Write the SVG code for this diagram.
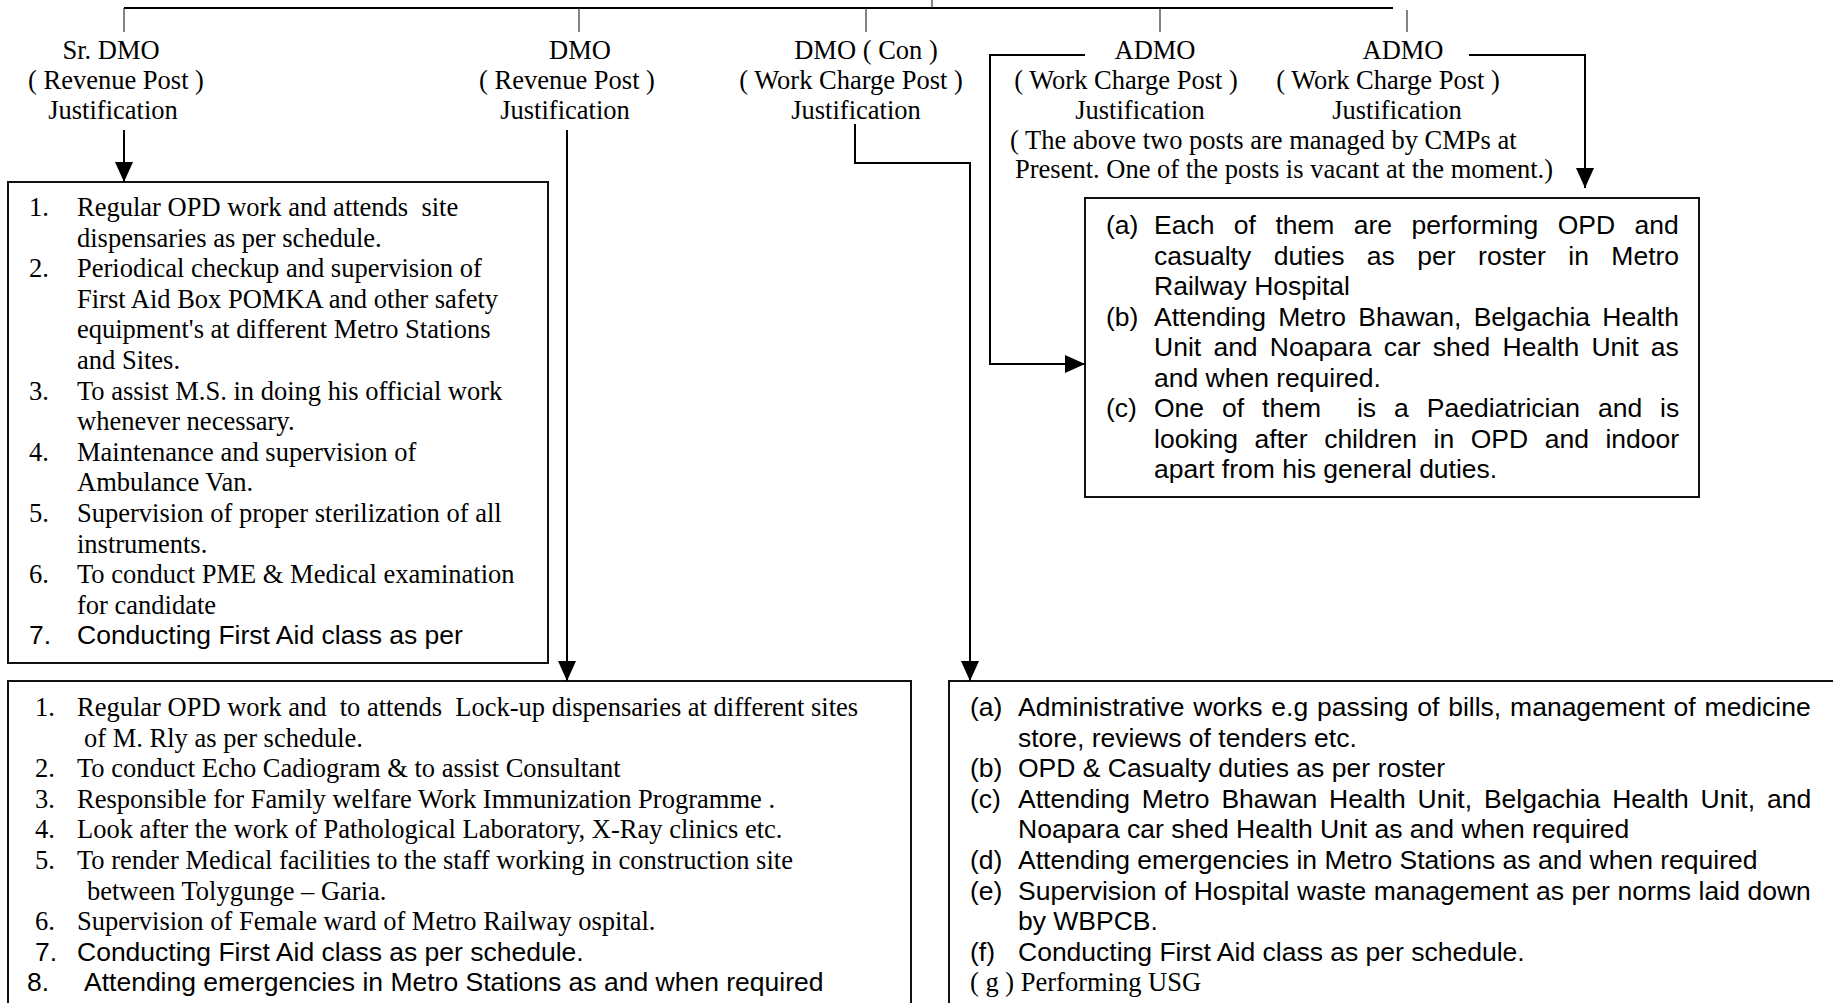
<svg xmlns="http://www.w3.org/2000/svg" width="1833" height="1003" viewBox="0 0 1833 1003" xml:space="preserve">
<style>
text{fill:#000;white-space:pre;font-size:26.5px}
.t{font-family:"Liberation Serif","Times New Roman",serif}
.a{font-family:"Liberation Sans",Arial,sans-serif}
.m{text-anchor:middle}
.box{fill:#fff;stroke:#111;stroke-width:2}
.conn{fill:none;stroke:#000;stroke-width:2}
.tick{fill:none;stroke:#333;stroke-width:1.2}
</style>
<defs>
<marker id="ah" markerUnits="userSpaceOnUse" markerWidth="20" markerHeight="18" refX="20" refY="9" orient="auto" viewBox="0 0 20 18">
<path d="M0,0 L20,9 L0,18 Z" fill="#000"/>
</marker>
</defs>
<rect width="1833" height="1003" fill="#fff"/>

<g id="org-lines">
<path class="conn" d="M124,8 H1393"/>
<path class="tick" d="M932,0 V8 M124,8 V32 M579,8 V32 M866,8 V32 M1160,9 V32 M1407,10 V32"/>
</g>

<g id="node-srdmo">
<text class="t m" x="111" y="58.5">Sr. DMO</text>
<text class="t m" x="116" y="88.5">( Revenue Post )</text>
<text class="t m" x="113" y="118.5">Justification</text>
</g>
<g id="node-dmo">
<text class="t m" x="580" y="58.5">DMO</text>
<text class="t m" x="567" y="88.5">( Revenue Post )</text>
<text class="t m" x="565" y="118.5">Justification</text>
</g>
<g id="node-dmocon">
<text class="t m" x="866" y="58.5">DMO ( Con )</text>
<text class="t m" x="851" y="88.5">( Work Charge Post )</text>
<text class="t m" x="856" y="118.5">Justification</text>
</g>
<g id="node-admo1">
<text class="t m" x="1155" y="58.5">ADMO</text>
<text class="t m" x="1126" y="88.5">( Work Charge Post )</text>
<text class="t m" x="1140" y="118.5">Justification</text>
</g>
<g id="node-admo2">
<text class="t m" x="1403" y="58.5">ADMO</text>
<text class="t m" x="1388" y="88.5">( Work Charge Post )</text>
<text class="t m" x="1397" y="118.5">Justification</text>
</g>
<g id="note-admo">
<text class="t" x="1010" y="148.5">( The above two posts are managed by CMPs at</text>
<text class="t" x="1015" y="178">Present. One of the posts is vacant at the moment.)</text>
</g>

<g id="box-srdmo">
<rect class="box" x="8" y="182" width="540" height="481"/>
<text class="t" x="29" y="216">1.</text>
<text class="t" x="77" y="216">Regular OPD work and attends  site</text>
<text class="t" x="77" y="246.6">dispensaries as per schedule.</text>
<text class="t" x="29" y="277.2">2.</text>
<text class="t" x="77" y="277.2">Periodical checkup and supervision of</text>
<text class="t" x="77" y="307.8">First Aid Box POMKA and other safety</text>
<text class="t" x="77" y="338.4">equipment's at different Metro Stations</text>
<text class="t" x="77" y="369">and Sites.</text>
<text class="t" x="29" y="399.6">3.</text>
<text class="t" x="77" y="399.6">To assist M.S. in doing his official work</text>
<text class="t" x="77" y="430.2">whenever necessary.</text>
<text class="t" x="29" y="460.8">4.</text>
<text class="t" x="77" y="460.8">Maintenance and supervision of</text>
<text class="t" x="77" y="491.4">Ambulance Van.</text>
<text class="t" x="29" y="522">5.</text>
<text class="t" x="77" y="522">Supervision of proper sterilization of all</text>
<text class="t" x="77" y="552.6">instruments.</text>
<text class="t" x="29" y="583.2">6.</text>
<text class="t" x="77" y="583.2">To conduct PME &amp; Medical examination</text>
<text class="t" x="77" y="613.8">for candidate</text>
<text class="a" x="29" y="644.4">7.</text>
<text class="a" x="77" y="644.4">Conducting First Aid class as per</text>
</g>

<g id="box-admo">
<rect class="box" x="1085" y="198" width="614" height="299"/>
<text class="a" x="1106" y="234">(a)</text>
<text class="a" x="1154" y="234" word-spacing="12.1">Each of them are performing OPD and</text>
<text class="a" x="1154" y="264.5" word-spacing="15.1">casualty duties as per roster in Metro</text>
<text class="a" x="1154" y="295">Railway Hospital</text>
<text class="a" x="1106" y="325.5">(b)</text>
<text class="a" x="1154" y="325.5" word-spacing="4.9">Attending Metro Bhawan, Belgachia Health</text>
<text class="a" x="1154" y="356" word-spacing="4.9">Unit and Noapara car shed Health Unit as</text>
<text class="a" x="1154" y="386.5">and when required.</text>
<text class="a" x="1106" y="417">(c)</text>
<text class="a" x="1154" y="417" word-spacing="10.6">One of them  is a Paediatrician and is</text>
<text class="a" x="1154" y="447.5" word-spacing="9.2">looking after children in OPD and indoor</text>
<text class="a" x="1154" y="478">apart from his general duties.</text>
</g>

<g id="box-dmo">
<rect class="box" x="8" y="681" width="903" height="340"/>
<text class="t" x="35" y="716">1.</text>
<text class="t" x="77" y="716">Regular OPD work and  to attends  Lock-up dispensaries at different sites</text>
<text class="t" x="84" y="746.6">of M. Rly as per schedule.</text>
<text class="t" x="35" y="777.2">2.</text>
<text class="t" x="77" y="777.2">To conduct Echo Cadiogram &amp; to assist Consultant</text>
<text class="t" x="35" y="807.8">3.</text>
<text class="t" x="77" y="807.8">Responsible for Family welfare Work Immunization Programme .</text>
<text class="t" x="35" y="838.4">4.</text>
<text class="t" x="77" y="838.4">Look after the work of Pathological Laboratory, X-Ray clinics etc.</text>
<text class="t" x="35" y="869">5.</text>
<text class="t" x="77" y="869">To render Medical facilities to the staff working in construction site</text>
<text class="t" x="87" y="899.6">between Tolygunge – Garia.</text>
<text class="t" x="35" y="930.2">6.</text>
<text class="t" x="77" y="930.2">Supervision of Female ward of Metro Railway ospital.</text>
<text class="a" x="35" y="960.8">7.</text>
<text class="a" x="77" y="960.8">Conducting First Aid class as per schedule.</text>
<text class="a" x="27" y="991.4">8.</text>
<text class="a" x="84" y="991.4">Attending emergencies in Metro Stations as and when required</text>
</g>

<g id="box-dmocon">
<rect class="box" x="949" y="681" width="900" height="340"/>
<text class="a" x="970" y="716">(a)</text>
<text class="a" x="1018" y="716" word-spacing="1.5">Administrative works e.g passing of bills, management of medicine</text>
<text class="a" x="1018" y="746.6">store, reviews of tenders etc.</text>
<text class="a" x="970" y="777.2">(b)</text>
<text class="a" x="1018" y="777.2">OPD &amp; Casualty duties as per roster</text>
<text class="a" x="970" y="807.8">(c)</text>
<text class="a" x="1018" y="807.8" word-spacing="4.5">Attending Metro Bhawan Health Unit, Belgachia Health Unit, and</text>
<text class="a" x="1018" y="838.4">Noapara car shed Health Unit as and when required</text>
<text class="a" x="970" y="869">(d)</text>
<text class="a" x="1018" y="869">Attending emergencies in Metro Stations as and when required</text>
<text class="a" x="970" y="899.6">(e)</text>
<text class="a" x="1018" y="899.6" word-spacing="0.2">Supervision of Hospital waste management as per norms laid down</text>
<text class="a" x="1018" y="930.2">by WBPCB.</text>
<text class="a" x="970" y="960.8">(f)</text>
<text class="a" x="1018" y="960.8">Conducting First Aid class as per schedule.</text>
<text class="t" x="970" y="991.4">( g ) Performing USG</text>
</g>

<g id="connectors">
<path class="conn" d="M124,130 V182" marker-end="url(#ah)"/>
<path class="conn" d="M567,130 V681" marker-end="url(#ah)"/>
<path class="conn" d="M855,124 V163 H970 V681" marker-end="url(#ah)"/>
<path class="conn" d="M1085,55 H990 V364 H1085" marker-end="url(#ah)"/>
<path class="conn" d="M1469,55 H1585 V188" marker-end="url(#ah)"/>
</g>
</svg>
